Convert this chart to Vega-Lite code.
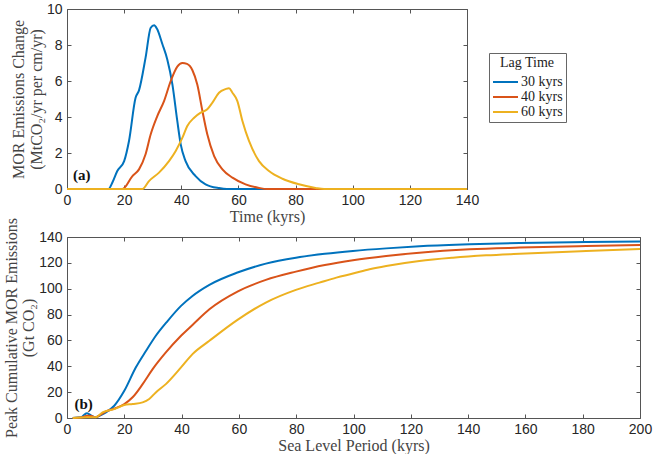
{
  "$schema": "https://vega.github.io/schema/vega-lite/v6.json",
  "padding": {"left": 2, "top": 1, "right": 1, "bottom": 0},
  "background": "white",
  "datasets": {
    "emis": [
      {"t": 0, "v": 0, "lag": "30 kyrs"}, {"t": 14.5, "v": 0, "lag": "30 kyrs"}, {"t": 16, "v": 0.4, "lag": "30 kyrs"},
      {"t": 17.6, "v": 1.0, "lag": "30 kyrs"}, {"t": 20, "v": 1.55, "lag": "30 kyrs"}, {"t": 21.7, "v": 2.67, "lag": "30 kyrs"},
      {"t": 24, "v": 5.07, "lag": "30 kyrs"}, {"t": 25.2, "v": 5.48, "lag": "30 kyrs"}, {"t": 27.5, "v": 7.3, "lag": "30 kyrs"},
      {"t": 29.3, "v": 8.96, "lag": "30 kyrs"}, {"t": 30.5, "v": 9.1, "lag": "30 kyrs"}, {"t": 31.5, "v": 8.9, "lag": "30 kyrs"},
      {"t": 33.4, "v": 8.04, "lag": "30 kyrs"}, {"t": 35.1, "v": 7.2, "lag": "30 kyrs"}, {"t": 36.9, "v": 5.8, "lag": "30 kyrs"},
      {"t": 38.6, "v": 3.78, "lag": "30 kyrs"}, {"t": 39.8, "v": 2.48, "lag": "30 kyrs"}, {"t": 41.5, "v": 1.55, "lag": "30 kyrs"},
      {"t": 45, "v": 0.72, "lag": "30 kyrs"}, {"t": 48.5, "v": 0.26, "lag": "30 kyrs"}, {"t": 53.2, "v": 0.05, "lag": "30 kyrs"},
      {"t": 56, "v": 0, "lag": "30 kyrs"}, {"t": 140, "v": 0, "lag": "30 kyrs"},
      {"t": 0, "v": 0, "lag": "40 kyrs"}, {"t": 19.4, "v": 0, "lag": "40 kyrs"}, {"t": 22.9, "v": 0.72, "lag": "40 kyrs"},
      {"t": 25.2, "v": 1.09, "lag": "40 kyrs"}, {"t": 27.5, "v": 1.93, "lag": "40 kyrs"}, {"t": 29.3, "v": 3.04, "lag": "40 kyrs"},
      {"t": 31.6, "v": 4.05, "lag": "40 kyrs"}, {"t": 34, "v": 4.9, "lag": "40 kyrs"}, {"t": 36.3, "v": 6.0, "lag": "40 kyrs"},
      {"t": 38.6, "v": 6.8, "lag": "40 kyrs"}, {"t": 40.4, "v": 7.0, "lag": "40 kyrs"}, {"t": 42, "v": 6.95, "lag": "40 kyrs"},
      {"t": 43.9, "v": 6.6, "lag": "40 kyrs"}, {"t": 45.6, "v": 5.8, "lag": "40 kyrs"}, {"t": 47.4, "v": 4.33, "lag": "40 kyrs"},
      {"t": 49.1, "v": 3.04, "lag": "40 kyrs"}, {"t": 51.5, "v": 1.83, "lag": "40 kyrs"}, {"t": 54.4, "v": 1.09, "lag": "40 kyrs"},
      {"t": 57.9, "v": 0.63, "lag": "40 kyrs"}, {"t": 62.5, "v": 0.26, "lag": "40 kyrs"}, {"t": 67.2, "v": 0.06, "lag": "40 kyrs"},
      {"t": 70, "v": 0, "lag": "40 kyrs"}, {"t": 140, "v": 0, "lag": "40 kyrs"},
      {"t": 0, "v": 0, "lag": "60 kyrs"}, {"t": 26.4, "v": 0, "lag": "60 kyrs"}, {"t": 28.7, "v": 0.44, "lag": "60 kyrs"},
      {"t": 32.2, "v": 0.91, "lag": "60 kyrs"}, {"t": 35.7, "v": 1.55, "lag": "60 kyrs"}, {"t": 38, "v": 2.1, "lag": "60 kyrs"},
      {"t": 40.4, "v": 2.85, "lag": "60 kyrs"}, {"t": 42.1, "v": 3.5, "lag": "60 kyrs"}, {"t": 44.5, "v": 3.96, "lag": "60 kyrs"},
      {"t": 46.8, "v": 4.24, "lag": "60 kyrs"}, {"t": 49.1, "v": 4.43, "lag": "60 kyrs"}, {"t": 50.9, "v": 4.8, "lag": "60 kyrs"},
      {"t": 53.2, "v": 5.35, "lag": "60 kyrs"}, {"t": 55.5, "v": 5.55, "lag": "60 kyrs"}, {"t": 56.7, "v": 5.6, "lag": "60 kyrs"},
      {"t": 57.9, "v": 5.35, "lag": "60 kyrs"}, {"t": 59.6, "v": 4.9, "lag": "60 kyrs"}, {"t": 61.4, "v": 3.78, "lag": "60 kyrs"},
      {"t": 63.7, "v": 2.67, "lag": "60 kyrs"}, {"t": 67.2, "v": 1.55, "lag": "60 kyrs"}, {"t": 70.7, "v": 1.0, "lag": "60 kyrs"},
      {"t": 75.4, "v": 0.57, "lag": "60 kyrs"}, {"t": 81.2, "v": 0.26, "lag": "60 kyrs"}, {"t": 87, "v": 0.06, "lag": "60 kyrs"},
      {"t": 90, "v": 0, "lag": "60 kyrs"}, {"t": 140, "v": 0, "lag": "60 kyrs"}
    ],
    "cum": [
      {"p": 2, "c": 0, "lag": "30 kyrs"}, {"p": 5, "c": 0.5, "lag": "30 kyrs"}, {"p": 6, "c": 2.5, "lag": "30 kyrs"},
      {"p": 7, "c": 3.6, "lag": "30 kyrs"}, {"p": 8, "c": 2.5, "lag": "30 kyrs"}, {"p": 10, "c": 0.5, "lag": "30 kyrs"},
      {"p": 12, "c": 2.5, "lag": "30 kyrs"}, {"p": 13.6, "c": 4.4, "lag": "30 kyrs"}, {"p": 16.5, "c": 9.5, "lag": "30 kyrs"},
      {"p": 20, "c": 21, "lag": "30 kyrs"}, {"p": 24, "c": 39, "lag": "30 kyrs"}, {"p": 27.6, "c": 52, "lag": "30 kyrs"},
      {"p": 31, "c": 63.6, "lag": "30 kyrs"}, {"p": 35.1, "c": 75, "lag": "30 kyrs"}, {"p": 39.8, "c": 86.7, "lag": "30 kyrs"},
      {"p": 43.8, "c": 94.4, "lag": "30 kyrs"}, {"p": 49.7, "c": 103, "lag": "30 kyrs"}, {"p": 59.5, "c": 112.5, "lag": "30 kyrs"},
      {"p": 69.4, "c": 119.4, "lag": "30 kyrs"}, {"p": 79.9, "c": 124, "lag": "30 kyrs"}, {"p": 90, "c": 127, "lag": "30 kyrs"},
      {"p": 99.8, "c": 129.2, "lag": "30 kyrs"}, {"p": 111.4, "c": 131.2, "lag": "30 kyrs"}, {"p": 123, "c": 132.8, "lag": "30 kyrs"},
      {"p": 140.5, "c": 134.3, "lag": "30 kyrs"}, {"p": 158, "c": 135.4, "lag": "30 kyrs"}, {"p": 181.2, "c": 136.1, "lag": "30 kyrs"},
      {"p": 200, "c": 136.5, "lag": "30 kyrs"},
      {"p": 2, "c": 0, "lag": "40 kyrs"}, {"p": 5, "c": 0.3, "lag": "40 kyrs"}, {"p": 7, "c": 1.8, "lag": "40 kyrs"},
      {"p": 8.5, "c": 1.5, "lag": "40 kyrs"}, {"p": 10, "c": 0.5, "lag": "40 kyrs"}, {"p": 12, "c": 3, "lag": "40 kyrs"},
      {"p": 13.6, "c": 5.1, "lag": "40 kyrs"}, {"p": 17.1, "c": 7.7, "lag": "40 kyrs"}, {"p": 20, "c": 10.8, "lag": "40 kyrs"},
      {"p": 22.9, "c": 16, "lag": "40 kyrs"}, {"p": 26.4, "c": 26.2, "lag": "40 kyrs"}, {"p": 29.9, "c": 37.8, "lag": "40 kyrs"},
      {"p": 34.5, "c": 50.7, "lag": "40 kyrs"}, {"p": 39.8, "c": 63.6, "lag": "40 kyrs"}, {"p": 43.8, "c": 72, "lag": "40 kyrs"},
      {"p": 49.7, "c": 84.1, "lag": "40 kyrs"}, {"p": 59.5, "c": 97.8, "lag": "40 kyrs"}, {"p": 69.4, "c": 106.8, "lag": "40 kyrs"},
      {"p": 79.9, "c": 113.2, "lag": "40 kyrs"}, {"p": 90, "c": 118.3, "lag": "40 kyrs"}, {"p": 99.8, "c": 122, "lag": "40 kyrs"},
      {"p": 111.4, "c": 125.3, "lag": "40 kyrs"}, {"p": 123, "c": 127.9, "lag": "40 kyrs"}, {"p": 140.5, "c": 130.5, "lag": "40 kyrs"},
      {"p": 158, "c": 131.8, "lag": "40 kyrs"}, {"p": 181.2, "c": 133, "lag": "40 kyrs"}, {"p": 200, "c": 133.8, "lag": "40 kyrs"},
      {"p": 2, "c": 0, "lag": "60 kyrs"}, {"p": 7, "c": 0.5, "lag": "60 kyrs"}, {"p": 10, "c": 0.5, "lag": "60 kyrs"},
      {"p": 12.4, "c": 4.4, "lag": "60 kyrs"}, {"p": 16.5, "c": 6.9, "lag": "60 kyrs"}, {"p": 20, "c": 10, "lag": "60 kyrs"},
      {"p": 22.9, "c": 10.8, "lag": "60 kyrs"}, {"p": 26.4, "c": 12.1, "lag": "60 kyrs"}, {"p": 28.7, "c": 14.7, "lag": "60 kyrs"},
      {"p": 31, "c": 19.8, "lag": "60 kyrs"}, {"p": 34.5, "c": 26.2, "lag": "60 kyrs"}, {"p": 39.8, "c": 39.1, "lag": "60 kyrs"},
      {"p": 43.8, "c": 49.4, "lag": "60 kyrs"}, {"p": 49.7, "c": 59.7, "lag": "60 kyrs"}, {"p": 59.5, "c": 75.9, "lag": "60 kyrs"},
      {"p": 69.4, "c": 89.3, "lag": "60 kyrs"}, {"p": 79.9, "c": 99.1, "lag": "60 kyrs"}, {"p": 88.1, "c": 104.7, "lag": "60 kyrs"},
      {"p": 94, "c": 108.6, "lag": "60 kyrs"}, {"p": 99.8, "c": 111.7, "lag": "60 kyrs"}, {"p": 105.6, "c": 115, "lag": "60 kyrs"},
      {"p": 111.4, "c": 117.6, "lag": "60 kyrs"}, {"p": 123, "c": 121.5, "lag": "60 kyrs"}, {"p": 134.7, "c": 124, "lag": "60 kyrs"},
      {"p": 146.3, "c": 125.8, "lag": "60 kyrs"}, {"p": 158, "c": 127.1, "lag": "60 kyrs"}, {"p": 181.2, "c": 129.2, "lag": "60 kyrs"},
      {"p": 200, "c": 130.7, "lag": "60 kyrs"}
    ],
    "tagA": [{"x": 5.2, "y": 0.8, "text": "(a)"}],
    "tagB": [{"x": 5.8, "y": 11, "text": "(b)"}]
  },
  "vconcat": [
    {
      "width": 400,
      "height": 180,
      "layer": [
        {
          "data": {"name": "emis"},
          "mark": {"type": "line", "strokeWidth": 2, "interpolate": "monotone"},
          "encoding": {
            "x": {
              "field": "t", "type": "quantitative", "title": "Time (kyrs)",
              "scale": {"domain": [0, 140], "nice": false},
              "axis": {"values": [0, 20, 40, 60, 80, 100, 120, 140]}
            },
            "y": {
              "field": "v", "type": "quantitative",
              "title": ["MOR Emissions Change", "(MtCO₂/yr per cm/yr)"],
              "scale": {"domain": [0, 10], "nice": false},
              "axis": {"values": [0, 2, 4, 6, 8, 10]}
            },
            "color": {
              "field": "lag", "type": "nominal",
              "scale": {"domain": ["30 kyrs", "40 kyrs", "60 kyrs"], "range": ["#0072BD", "#D95319", "#EDB120"]},
              "legend": {
                "title": "Lag Time",
                "orient": "none",
                "legendX": 422,
                "legendY": 44,
                "strokeColor": "#666",
                "padding": 3,
                "titleFont": "Liberation Serif",
                "titleFontSize": 14,
                "titleFontWeight": "normal",
                "titleColor": "#222",
                "titleAnchor": "middle",
                "labelFont": "Liberation Serif",
                "labelFontSize": 14,
                "labelColor": "#222",
                "labelOffset": 2,
                "symbolType": "stroke",
                "symbolSize": 625,
                "symbolStrokeWidth": 2,
                "clipHeight": 14,
                "rowPadding": 1
              }
            }
          }
        },
        {
          "data": {"name": "tagA"},
          "mark": {"type": "text", "font": "Liberation Serif", "fontSize": 15, "fontWeight": "bold", "color": "#111"},
          "encoding": {
            "x": {"field": "x", "type": "quantitative", "axis": {"orient": "top", "labels": false, "title": null, "values": [0, 20, 40, 60, 80, 100, 120, 140], "minExtent": 0}},
            "y": {"field": "y", "type": "quantitative", "axis": {"orient": "right", "labels": false, "title": null, "values": [0, 2, 4, 6, 8, 10], "minExtent": 0}},
            "text": {"field": "text"}
          }
        }
      ],
      "resolve": {"axis": {"x": "independent", "y": "independent"}}
    },
    {
      "width": 573,
      "height": 181,
      "layer": [
        {
          "data": {"name": "cum"},
          "mark": {"type": "line", "strokeWidth": 2, "interpolate": "monotone"},
          "encoding": {
            "x": {
              "field": "p", "type": "quantitative", "title": "Sea Level Period (kyrs)",
              "scale": {"domain": [0, 200], "nice": false},
              "axis": {"values": [0, 20, 40, 60, 80, 100, 120, 140, 160, 180, 200]}
            },
            "y": {
              "field": "c", "type": "quantitative",
              "title": ["Peak Cumulative MOR Emissions", "(Gt CO₂)"],
              "scale": {"domain": [0, 140], "nice": false},
              "axis": {"values": [0, 20, 40, 60, 80, 100, 120, 140]}
            },
            "color": {
              "field": "lag", "type": "nominal",
              "scale": {"domain": ["30 kyrs", "40 kyrs", "60 kyrs"], "range": ["#0072BD", "#D95319", "#EDB120"]},
              "legend": null
            }
          }
        },
        {
          "data": {"name": "tagB"},
          "mark": {"type": "text", "font": "Liberation Serif", "fontSize": 15, "fontWeight": "bold", "color": "#111"},
          "encoding": {
            "x": {"field": "x", "type": "quantitative", "axis": {"orient": "top", "labels": false, "title": null, "values": [0, 20, 40, 60, 80, 100, 120, 140, 160, 180, 200], "minExtent": 0}},
            "y": {"field": "y", "type": "quantitative", "axis": {"orient": "right", "labels": false, "title": null, "values": [0, 20, 40, 60, 80, 100, 120, 140], "minExtent": 0}},
            "text": {"field": "text"}
          }
        }
      ],
      "resolve": {"axis": {"x": "independent", "y": "independent"}}
    }
  ],
  "bounds": "flush",
  "spacing": 48,
  "resolve": {"legend": {"color": "independent"}},
  "config": {
    "view": {"stroke": "#555", "strokeWidth": 1},
    "axis": {
      "grid": false,
      "domain": false,
      "labelFlush": false,
      "tickColor": "#555",
      "tickSize": -4,
      "labelFont": "Liberation Sans",
      "labelFontSize": 14,
      "labelColor": "#262626",
      "labelPadding": 9,
      "titleFont": "Liberation Serif",
      "titleFontSize": 16,
      "titleFontWeight": "normal",
      "titleColor": "#444",
      "titlePadding": 2,
      "titleLineHeight": 17.5
    },
    "axisX": {"titlePadding": 1, "labelPadding": 8}
  }
}
